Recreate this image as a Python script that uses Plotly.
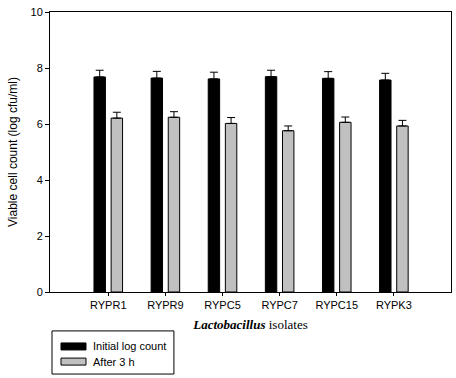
import plotly.graph_objects as go

isolates = ["RYPR1", "RYPR9", "RYPC5", "RYPC7", "RYPC15", "RYPK3"]
series_names = ["Initial log count", "After 3 h"]
initial_log = [7.68, 7.64, 7.61, 7.69, 7.63, 7.57]
initial_err = [0.24, 0.24, 0.24, 0.23, 0.24, 0.24]
after_3h = [6.21, 6.24, 6.02, 5.76, 6.06, 5.93]
after_err = [0.21, 0.20, 0.21, 0.17, 0.19, 0.20]
y_ticks = [0, 2, 4, 6, 8, 10]

x_idx = list(range(len(isolates)))
FONT = "Arial, Liberation Sans, sans-serif"
COLORS = ["black", "#c0c0c0"]

fig = go.Figure()
fig.add_trace(go.Bar(
    x=x_idx, y=initial_log, name=series_names[0],
    width=0.2, offset=-0.25,
    marker=dict(color=COLORS[0], line=dict(color="black", width=1)),
    error_y=dict(type="data", array=initial_err, symmetric=False,
                 arrayminus=[0] * len(initial_err),
                 color="black", thickness=1, width=4),
))
fig.add_trace(go.Bar(
    x=x_idx, y=after_3h, name=series_names[1],
    width=0.2, offset=0.05,
    marker=dict(color=COLORS[1], line=dict(color="black", width=1)),
    error_y=dict(type="data", array=after_err, symmetric=False,
                 arrayminus=[0] * len(after_err),
                 color="black", thickness=1, width=4),
))

# Legend drawn as a framed key below the plot (paper coordinates)
shapes = [dict(type="rect", xref="paper", yref="paper",
               x0=0.005, x1=0.309, y0=-0.139, y1=-0.293,
               line=dict(color="black", width=1), fillcolor="white")]
annotations = []
row_y = [-0.1945, -0.2485]
for name, col, yc in zip(series_names, COLORS, row_y):
    shapes.append(dict(type="rect", xref="paper", yref="paper",
                       x0=0.0274, x1=0.0898, y0=yc - 0.0125, y1=yc + 0.0125,
                       line=dict(color="black", width=1), fillcolor=col))
    annotations.append(dict(xref="paper", yref="paper", x=0.103, y=yc,
                            xanchor="left", yanchor="middle", text=name,
                            showarrow=False,
                            font=dict(family=FONT, size=11, color="black")))

fig.update_layout(
    width=456, height=378,
    margin=dict(l=50, r=5, t=12, b=86),
    paper_bgcolor="white", plot_bgcolor="white",
    font=dict(family=FONT, size=11, color="black"),
    barmode="overlay",
    showlegend=False,
    shapes=shapes,
    annotations=annotations,
)

fig.update_xaxes(
    range=[-1.02, 6.0],
    tickmode="array", tickvals=x_idx, ticktext=isolates,
    ticks="outside", ticklen=3, tickcolor="black",
    showline=True, linecolor="black", linewidth=1, mirror=True,
    showgrid=False, zeroline=False,
    tickfont=dict(family=FONT, size=11),
    title=dict(
        text="<b><i>Lactobacillus</i></b> isolates",
        font=dict(family="Times New Roman, Liberation Serif, serif", size=13),
        standoff=9,
    ),
)
fig.update_yaxes(
    range=[0, 10],
    tickmode="array", tickvals=y_ticks,
    ticks="outside", ticklen=4, tickcolor="black",
    showline=True, linecolor="black", linewidth=1, mirror=True,
    showgrid=False, zeroline=False,
    tickfont=dict(family=FONT, size=11),
    title=dict(
        text="Viable cell count (log cfu/ml)",
        font=dict(family=FONT, size=12),
        standoff=10,
    ),
)

fig.write_html("out.html",
               config={"displayModeBar": False},
               post_script="document.body.style.margin='0';document.body.style.overflow='hidden';")
